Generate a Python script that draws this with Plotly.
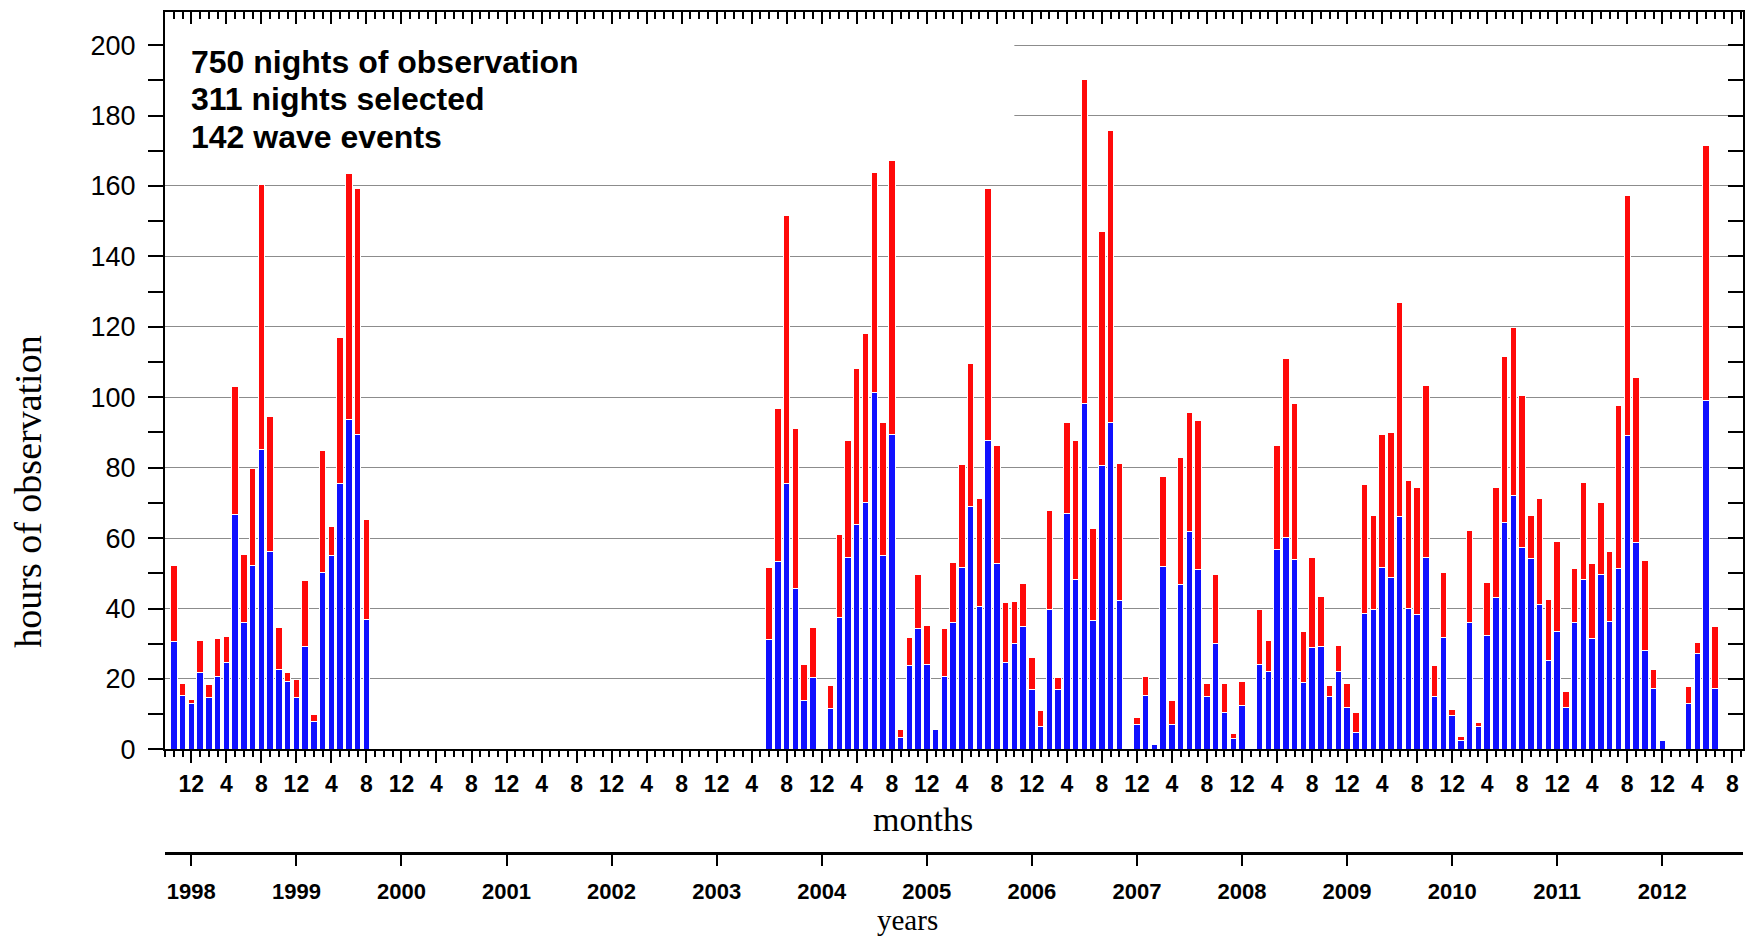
import plotly.graph_objects as go

# ---------------- data ----------------
# month index: 0 = first "12" tick (aligned with the 1998 year tick), 1 unit = 1 month
month_index = [-2, -1, 0, 1, 2, 3, 4, 5, 6, 7, 8, 9, 10, 11, 12, 13, 14, 15, 16, 17, 18, 19, 20,
               66, 67, 68, 69, 70, 71,
               73, 74, 75, 76, 77, 78, 79, 80, 81, 82, 83, 84, 85, 86, 87, 88, 89, 90, 91, 92,
               93, 94, 95, 96, 97, 98, 99, 100, 101, 102, 103, 104, 105, 106,
               108, 109, 110, 111, 112, 113, 114, 115, 116, 117, 118, 119, 120,
               122, 123, 124, 125, 126, 127, 128, 129, 130, 131, 132, 133, 134, 135, 136, 137,
               138, 139, 140, 141, 142, 143, 144, 145, 146, 147, 148, 149, 150, 151, 152, 153,
               154, 155, 156, 157, 158, 159, 160, 161, 162, 163, 164, 165, 166, 167, 168,
               171, 172, 173, 174]

blue_hours = [30.7, 15.4, 13.1, 21.7, 14.7, 20.7, 24.7, 66.7, 36.1, 52.3, 85.3, 56.3, 22.8, 19.4,
              14.7, 29.3, 8.0, 50.3, 55.2, 75.5, 93.6, 89.4, 37.0,
              31.2, 53.4, 75.6, 45.8, 13.8, 20.3,
              11.5, 37.5, 54.5, 63.9, 70.0, 101.3, 55.2, 89.3, 3.4, 23.8, 34.2, 24.0, 5.7, 20.8,
              36.1, 51.7, 68.9, 40.5, 87.6, 52.8,
              24.6, 30.0, 34.9, 17.1, 6.6, 39.6, 17.1, 67.1, 48.2, 98.3, 36.6, 80.6, 92.9, 42.3,
              7.1, 15.4, 1.5, 52.0, 7.0, 46.8, 61.9, 51.0, 15.1, 30.0, 10.5, 3.1, 12.6,
              24.2, 22.1, 56.9, 60.1, 53.9, 18.9, 28.8, 29.1, 15.0, 22.1, 12.0, 4.9, 38.7, 39.8,
              51.7, 48.9,
              66.0, 40.1, 38.4, 54.5, 15.0, 31.9, 9.6, 2.4, 36.1, 6.6, 32.4, 43.0, 64.3, 72.0,
              57.3, 54.1,
              41.2, 25.2, 33.5, 11.9, 36.1, 48.2, 31.4, 49.6, 36.3, 51.4, 89.0, 58.7, 28.0, 17.2,
              2.4,
              13.0, 27.3, 99.0, 17.2]

red_hours = [21.4, 3.2, 1.2, 9.3, 3.7, 10.7, 7.4, 36.4, 19.2, 27.4, 75.0, 38.3, 11.7, 2.3,
             5.1, 18.6, 1.8, 34.5, 8.1, 41.5, 69.9, 69.9, 28.3,
             20.4, 43.3, 75.9, 45.3, 10.4, 14.2,
             6.7, 23.6, 33.1, 44.4, 48.1, 62.6, 37.7, 78.0, 2.2, 8.1, 15.4, 11.2, 0.0, 13.4,
             16.9, 29.2, 40.8, 30.8, 71.6, 33.6,
             17.0, 11.9, 12.2, 9.0, 4.4, 28.2, 3.2, 25.6, 39.4, 91.8, 26.0, 66.6, 82.9, 38.9,
             2.0, 5.3, 0.0, 25.6, 7.0, 36.1, 33.7, 42.3, 3.5, 19.8, 8.1, 1.5, 6.6,
             15.6, 8.9, 29.4, 51.0, 44.2, 14.6, 25.7, 14.4, 3.2, 7.3, 6.6, 5.6, 36.4, 26.6,
             37.6, 41.1,
             60.9, 36.3, 36.1, 48.9, 8.8, 18.4, 1.6, 1.4, 26.1, 1.1, 15.1, 31.5, 47.2, 47.8,
             43.2, 12.3,
             30.1, 17.4, 25.6, 4.6, 15.2, 27.7, 21.4, 20.4, 20.0, 46.3, 68.2, 46.8, 25.5, 5.6,
             0.0,
             4.9, 3.0, 72.5, 17.7]

month_cycle_labels = ["12", "4", "8"]
month_tick_vals = list(range(0, 177, 4))
month_tick_text = [month_cycle_labels[i % 3] for i in range(len(month_tick_vals))]

year_labels = ["1998", "1999", "2000", "2001", "2002", "2003", "2004", "2005",
               "2006", "2007", "2008", "2009", "2010", "2011", "2012"]
year_tick_vals = [12 * i for i in range(len(year_labels))]

info_lines = ["750 nights of observation", "311 nights selected", "142 wave events"]

# ---------------- figure ----------------
XR = [-3.006, 177.22]
YR = [0, 209.4]
SANS = "Arial, Liberation Sans, sans-serif"
SERIF = "Times New Roman, Liberation Serif, serif"

fig = go.Figure()
fig.add_trace(go.Bar(x=month_index, y=blue_hours, width=0.74,
                     marker=dict(color="#1010ff", line=dict(color="white", width=1)),
                     showlegend=False, hoverinfo="x+y"))
fig.add_trace(go.Bar(x=month_index, y=red_hours, width=0.74,
                     marker=dict(color="#ff0a0a", line=dict(color="white", width=1)),
                     showlegend=False, hoverinfo="x+y"))
# dummy traces so the extra axes are drawn
fig.add_trace(go.Scatter(x=[None], y=[None], xaxis="x2", yaxis="y", showlegend=False, hoverinfo="skip"))
fig.add_trace(go.Scatter(x=[None], y=[None], xaxis="x3", yaxis="y2", showlegend=False, hoverinfo="skip"))

fig.update_layout(
    width=1754, height=939,
    margin=dict(l=165, r=11, t=12, b=86),
    paper_bgcolor="white", plot_bgcolor="white",
    barmode="stack",
    showlegend=False,
    xaxis=dict(range=XR, anchor="y", tickmode="array", tickvals=month_tick_vals,
               ticktext=month_tick_text, ticks="outside", ticklen=12, tickwidth=2,
               tickcolor="black", showline=True, linewidth=2, linecolor="black",
               showgrid=False, zeroline=False, ticklabelstandoff=1,
               tickfont=dict(family=SANS, size=23, color="black", weight="bold"),
               minor=dict(tickmode="linear", tick0=0, dtick=1, ticks="outside", ticklen=6,
                          tickwidth=1.5, tickcolor="black", showgrid=False)),
    xaxis2=dict(range=XR, overlaying="x", anchor="free", position=0, side="bottom",
                tickmode="array", tickvals=year_tick_vals, ticktext=year_labels,
                ticks="outside", ticklen=11, tickwidth=2, tickcolor="black",
                showline=True, linewidth=3, linecolor="black", showgrid=False,
                zeroline=False, ticklabelstandoff=7,
                tickfont=dict(family=SANS, size=22, color="black", weight="bold")),
    xaxis3=dict(range=XR, overlaying="x", anchor="y", side="top", tickmode="linear",
                tick0=0, dtick=4, ticks="inside", ticklen=12, tickwidth=2, tickcolor="black",
                showticklabels=False, showline=True, linewidth=2, linecolor="black",
                showgrid=False, zeroline=False,
                minor=dict(tickmode="linear", tick0=0, dtick=1, ticks="inside", ticklen=7,
                           tickwidth=1.5, tickcolor="black", showgrid=False)),
    yaxis=dict(domain=[0.1232, 1], range=YR, anchor="x", tickmode="linear", tick0=0, dtick=20,
               ticks="outside", ticklen=15, tickwidth=2, tickcolor="black",
               showline=True, linewidth=2, linecolor="black",
               showgrid=True, gridcolor="#8c8c8c", gridwidth=1, zeroline=False,
               ticklabelstandoff=7,
               tickfont=dict(family=SANS, size=27, color="black"),
               minor=dict(tickmode="linear", tick0=0, dtick=10, ticks="outside", ticklen=15,
                          tickwidth=2, tickcolor="black", showgrid=False)),
    yaxis2=dict(range=YR, overlaying="y", anchor="x", side="right", tickmode="linear",
                tick0=0, dtick=10, ticks="inside", ticklen=15, tickwidth=2, tickcolor="black",
                showticklabels=False, showline=True, linewidth=2, linecolor="black",
                showgrid=False, zeroline=False),
)

# white box behind the info text (hides the upper gridlines there)
fig.add_shape(type="rect", xref="x", yref="y", x0=XR[0], x1=94.0, y0=170, y1=YR[1],
              fillcolor="white", line=dict(width=0), layer="between")

for line_text, ypos in zip(info_lines, [0.9411, 0.8960, 0.8508]):
    fig.add_annotation(text=line_text, xref="paper", yref="paper", x=0.0155, y=ypos,
                       xanchor="left", yanchor="middle", showarrow=False,
                       font=dict(family=SANS, size=32, color="black", weight="bold"))

fig.add_annotation(text="months", xref="paper", yref="paper", x=0.4804, y=0.0402,
                   xanchor="center", yanchor="middle", showarrow=False,
                   font=dict(family=SERIF, size=34, color="black"))
fig.add_annotation(text="years", xref="paper", yref="paper", x=0.4708, y=-0.1011,
                   xanchor="center", yanchor="bottom", showarrow=False,
                   font=dict(family=SERIF, size=29, color="black"))
fig.add_annotation(text="hours of observation", xref="paper", yref="paper", x=-0.0868, y=0.4296,
                   xanchor="center", yanchor="middle", showarrow=False, textangle=-90,
                   font=dict(family=SERIF, size=38, color="black"))

fig.write_html("out.html")
